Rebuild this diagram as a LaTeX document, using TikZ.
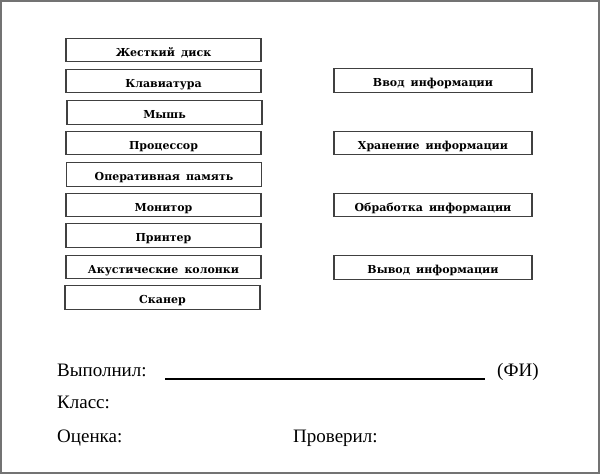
\documentclass[tikz,border=0pt]{standalone}
\usepackage{fontspec}
\setmainfont{Liberation Serif}
\newfontfamily\boxfont[WordSpace=1.6]{DejaVu Serif}
\usepackage{tikz}
\usetikzlibrary{positioning}

\tikzset{
	devbox/.style = {draw = black!75, line width = 1.1pt,
		minimum width = 195pt, minimum height = 23.5pt, inner sep = 0pt,
		text height = 12.5pt, text depth = 0pt,
		font = \boxfont\bfseries\fontsize{11}{13}\selectfont},
	funcbox/.style = {devbox, minimum width = 198pt},
	formtext/.style = {anchor = base west, inner sep = 0pt,
		font = \fontsize{19}{22}\selectfont}
}

\begin{document}
\begin{tikzpicture}[x=1pt, y=-1pt]

\useasboundingbox (0, 0) rectangle (600, 474);
\draw[black!55, line width = 1.5pt] (1, 1) rectangle (599, 473);

%devices
\node[devbox] (disk) at (163.5, 50) {Жесткий диск};
\node[devbox] (keyboard) at (163.5, 81) {Клавиатура};
\node[devbox] (mouse) at (164.5, 112.5) {Мышь};
\node[devbox] (cpu) at (163.5, 143) {Процессор};
\node[devbox] (ram) at (164, 174.5) {Оперативная память};
\node[devbox] (monitor) at (163.5, 205) {Монитор};
\node[devbox] (printer) at (163.5, 235.5) {Принтер};
\node[devbox] (speakers) at (163.5, 267) {Акустические колонки};
\node[devbox] (scanner) at (162.5, 297.5) {Сканер};

%functions
\node[funcbox] (input) at (433, 80.5) {Ввод информации};
\node[funcbox] (storage) at (433, 143) {Хранение информации};
\node[funcbox] (processing) at (433, 205) {Обработка информации};
\node[funcbox] (output) at (433, 267.5) {Вывод информации};

%signature lines
\node[formtext] (done) at (57, 376) {Выполнил:};
\node[formtext] (name) at (497, 376) {(ФИ)};
\node[formtext] (class) at (57, 408) {Класс:};
\node[formtext] (mark) at (57, 442) {Оценка:};
\node[formtext] (checked) at (293, 442) {Проверил:};

\draw[line width = 1.1pt] (165, 379) -- (485, 379);

\end{tikzpicture}
\end{document}
